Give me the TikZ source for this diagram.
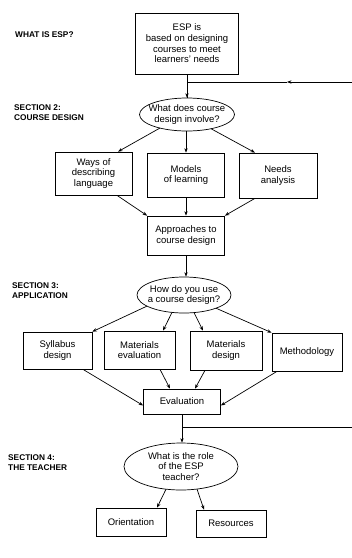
\documentclass[tikz,border=0pt]{standalone}
\usepackage{fontspec}
\setmainfont{Liberation Sans}
\usetikzlibrary{shapes.geometric,arrows.meta}
\newcommand\myboxfont{\fontsize{9.5}{10.7}\selectfont}
\newcommand\mysecfont{\fontsize{8.3}{10}\selectfont\bfseries}
\begin{document}
\begin{tikzpicture}[x=1pt,y=1pt,
  box/.style={draw,line width=0.7pt,align=center,inner sep=0pt,font=\myboxfont},
  ell/.style={draw,ellipse,line width=0.7pt,inner sep=0pt},
  lbl/.style={align=center,font=\myboxfont,inner sep=0pt},
  sec/.style={anchor=west,align=left,font=\mysecfont,inner sep=0pt},
  arr/.style={line width=0.7pt,-{Stealth[length=4.5pt,width=3.4pt]}},
  ln/.style={line width=0.7pt}]
\fill[white] (0,0) rectangle (352,-558);
\useasboundingbox (0,0) rectangle (352,-558);

% section labels
\node[sec] (s1) at (15,-35) {WHAT IS ESP?};
\node[sec] (s2) at (14,-113) {SECTION 2:\\COURSE DESIGN};
\node[sec] (s3) at (12,-291) {SECTION 3:\\APPLICATION};
\node[sec] (s4) at (8,-463) {SECTION 4:\\THE TEACHER};

% nodes
\node[box,minimum width=103,minimum height=61] (esp) at (187,-43.5) {ESP is\\based on designing\\courses to meet\\learners’ needs};
\node[ell,minimum width=95,minimum height=33] (e1) at (187,-114.5) {};
\node[lbl] (t1) at (e1) {What does course\\design involve?};
\node[box,minimum width=77,minimum height=43] (ways) at (93.5,-173.5) {Ways of\\describing\\language};
\node[box,minimum width=77,minimum height=44] (models) at (186,-175) {Models\\of learning};
\node[box,minimum width=78,minimum height=45] (needs) at (278,-175.5) {Needs\\analysis};
\node[box,minimum width=77,minimum height=39] (appr) at (186,-235.5) {Approaches to\\course design};
\node[ell,minimum width=94,minimum height=36] (e2) at (184,-295) {};
\node[lbl] (t2) at (e2) {How do you use\\a course design?};
\node[box,minimum width=69,minimum height=37] (syl) at (57.5,-350.5) {Syllabus\\design};
\node[box,minimum width=71,minimum height=38] (mev) at (139.5,-350) {Materials\\evaluation};
\node[box,minimum width=72,minimum height=39] (mds) at (226,-350.5) {Materials\\design};
\node[box,minimum width=70,minimum height=38] (meth) at (307,-352) {Methodology};
\node[box,minimum width=77,minimum height=25] (eval) at (182,-401.5) {Evaluation};
\node[ell,minimum width=114,minimum height=47] (e3) at (181,-466.5) {};
\node[lbl] (t3) at (e3) {What is the role\\of the ESP\\teacher?};
\node[box,minimum width=70,minimum height=28] (ori) at (131,-522) {Orientation};
\node[box,minimum width=70,minimum height=27] (res) at (231,-523.5) {Resources};

% feedback lines
\coordinate (fb1) at (352,-82);
\coordinate (fbm) at (287,-82);
\coordinate (fb2) at (352,-427);

% connectors
\draw[ln] (esp.south) -- (esp.south |- e1.north);
\draw[arr] (esp.south |- fb1) -- (e1.north);
\draw[arr] (fb1) -- (fbm);
\draw[ln] (fbm) -- (esp.south |- fb1);

\draw[arr] ([shift={(-27,-13.5)}]e1.center) -- ([xshift=24.5pt]ways.north);
\draw[arr] (e1.south -| models.north) -- (models.north);
\draw[arr] ([shift={(24,-14.2)}]e1.center) -- ([xshift=-23pt]needs.north);

\draw[arr] ([xshift=23.5pt]ways.south) -- (appr.north west);
\draw[arr] (models.south) -- (appr.north);
\draw[arr] ([xshift=-23pt]needs.south) -- (appr.north east);

\draw[arr] (appr.south) -- (appr.south |- e2.north);

\draw[arr] ([shift={(-37,-11.1)}]e2.center) -- (syl.north east);
\draw[arr] ([shift={(-12,-17.4)}]e2.center) -- ([xshift=23.5pt]mev.north);
\draw[arr] ([shift={(10,-17.6)}]e2.center) -- ([xshift=-23pt]mds.north);
\draw[arr] ([shift={(32,-13.2)}]e2.center) -- (meth.north west);

\draw[arr] ([xshift=25.5pt]syl.south) -- ([yshift=-4pt]eval.west);
\draw[arr] ([xshift=20.5pt]mev.south) -- ([xshift=-12pt]eval.north);
\draw[arr] ([xshift=-21pt]mds.south) -- ([xshift=13pt]eval.north);
\draw[arr] ([xshift=-30pt]meth.south) -- ([yshift=-4pt]eval.east);

\draw[ln] (eval.south) -- (eval.south |- fb2);
\draw[arr] (eval.south |- fb2) -- (eval.south |- e3.north);
\draw[ln] (fb2) -- (eval.south |- fb2);

\draw[arr] ([shift={(-15,-22.7)}]e3.center) -- ([xshift=26pt]ori.north);
\draw[arr] ([shift={(16,-22.6)}]e3.center) -- ([xshift=-27pt]res.north);
\end{tikzpicture}
\end{document}
